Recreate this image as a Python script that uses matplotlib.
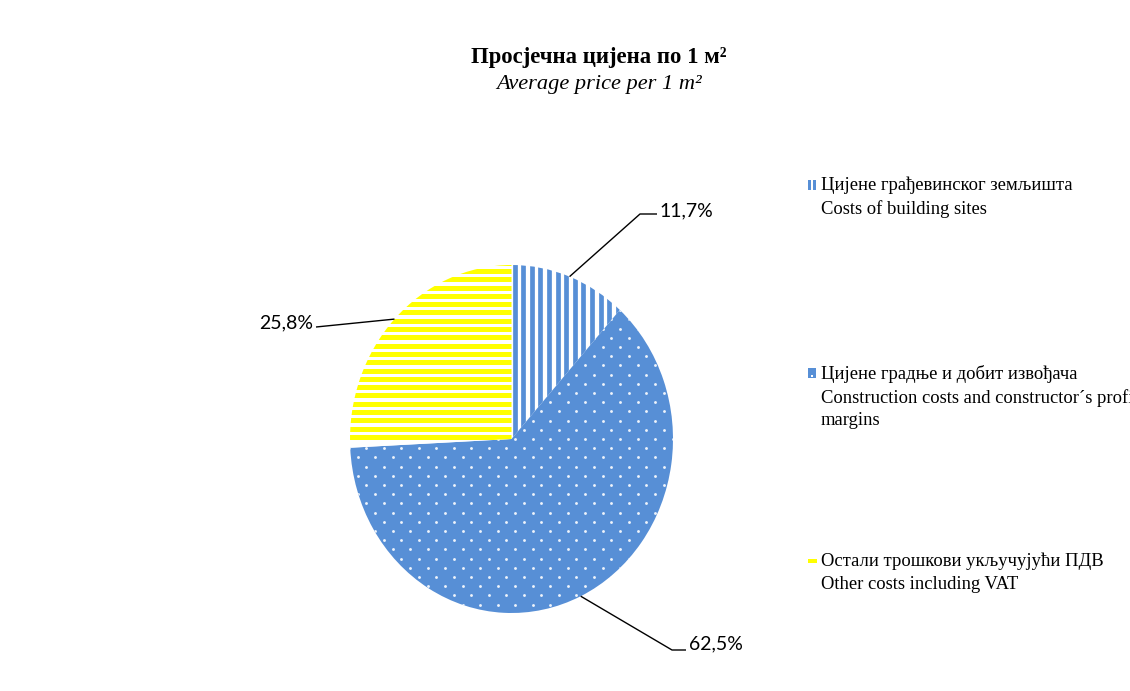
import numpy as np
import matplotlib
matplotlib.use("Agg")
import matplotlib.pyplot as plt
from matplotlib.patches import Rectangle
from matplotlib.collections import LineCollection
from matplotlib.transforms import IdentityTransform

# ---- data ----
categories_sr = ["Цијене грађевинског земљишта",
                 "Цијене градње и добит извођача",
                 "Остали трошкови укључујући ПДВ"]
categories_en = ["Costs of building sites",
                 "Construction costs and constructor\u00b4s profit\nmargins",
                 "Other costs including VAT"]
shares = [11.7, 62.5, 25.8]
value_labels = ["11,7%", "62,5%", "25,8%"]

title_sr = "Просјечна цијена по 1 м²"
title_en = "Average price per 1 m²"

BLUE = "#578FD6"
YELLOW = "#FFFF00"
DOT = "#EEF3FB"

W, H = 1130, 691
fig = plt.figure(figsize=(W / 100, H / 100), dpi=100)
fig.patch.set_facecolor("white")

# pie axes: ellipse spanning px x 350..673, y 265..613
cx, cy, rx, ry = 511.5, 439.0, 161.5, 174.0
ax = fig.add_axes([(cx - rx) / W, (H - (cy + ry)) / H, 2 * rx / W, 2 * ry / H])

wedges, _ = ax.pie(shares, startangle=90, counterclock=False, radius=1,
                   center=(0, 0), frame=True,
                   wedgeprops=dict(linewidth=0))
ax.set_aspect('auto')
ax.set_xlim(-1, 1)
ax.set_ylim(-1, 1)
ax.axis('off')

faces = ["white", BLUE, "white"]
for w, fc in zip(wedges, faces):
    w.set_facecolor(fc)
    w.set_edgecolor("none")
    w.set_linewidth(0)

ident = IdentityTransform()
x0p, x1p = cx - rx - 10, cx + rx + 10
y0p, y1p = H - (cy + ry) - 10, H - (cy - ry) + 10

# pattern 1: vertical blue stripes
xs = np.arange(cx + 3.0, x1p, 8.6)
segs = [[(x, y0p), (x, y1p)] for x in xs]
lc = LineCollection(segs, colors=BLUE, linewidths=3.4, transform=ident,
                    antialiased=True)
ax.add_collection(lc)
lc.set_clip_path(wedges[0])

# pattern 3: horizontal yellow stripes
ys = np.arange(H - cy + 2.0, y1p, 8.3)
segs = [[(x0p, y), (x1p, y)] for y in ys]
lc3 = LineCollection(segs, colors=YELLOW, linewidths=3.6, transform=ident,
                     antialiased=True)
ax.add_collection(lc3)
lc3.set_clip_path(wedges[2])

# pattern 2: staggered white dots on blue
dx, dy = 17.5, 9.2
pts = []
for j, yy in enumerate(np.arange(y0p, y1p, dy)):
    off = 0 if j % 2 == 0 else dx / 2
    for xx in np.arange(x0p + off, x1p, dx):
        pts.append((xx, yy))
pts = np.array(pts)
sc = ax.scatter(pts[:, 0], pts[:, 1], s=4.2, c=DOT, linewidths=0,
                transform=ident, zorder=3)
sc.set_clip_path(wedges[1])


def px2d(px, py):
    return ((px - cx) / rx, (cy - py) / ry)


# leader lines / labels (elbow, end, text position, alignment) in pixel coords
leaders = [
    ((640, 214), (657, 214), (659, 211), "left"),
    ((672, 650), (686, 650), (689, 644), "left"),
    ((316, 327), (316, 327), (313, 323), "right"),
]
for w, lab, (elb, end, tp, ha) in zip(wedges, value_labels, leaders):
    mid = np.deg2rad((w.theta1 + w.theta2) / 2)
    p0 = (np.cos(mid), np.sin(mid))
    e = px2d(*elb)
    f = px2d(*end)
    ax.plot([p0[0], e[0], f[0]], [p0[1], e[1], f[1]], color="black", lw=1.0,
            clip_on=False, solid_capstyle="butt", zorder=5)
    t = px2d(*tp)
    ax.text(t[0], t[1], lab, ha=ha, va="center", fontsize=14,
            family=["Lato", "DejaVu Sans"], clip_on=False)

# titles
fig.text(599 / W, 1 - 57 / H, title_sr, ha="center", va="center",
         fontsize=16.4, fontweight="bold", family=["Liberation Serif", "DejaVu Serif"])
fig.text(599 / W, 1 - 84 / H, title_en, ha="center", va="center",
         fontsize=16.1, style="italic", family=["Liberation Serif", "DejaVu Serif"])

# legend (manual)
leg_y = [185, 373, 561]
for i, (sr, en, y) in enumerate(zip(categories_sr, categories_en, leg_y)):
    fig.text(821 / W, 1 - (y - 8) / H, sr + "\n" + en, ha="left", va="top",
             fontsize=13.4, linespacing=1.42,
             family=["Liberation Serif", "DejaVu Serif"])
# legend markers
# 1: vertical stripes
for x0 in [808, 812.5]:
    fig.patches.append(Rectangle((x0 / W, 1 - 190 / H), 3 / W, 10 / H,
                                 transform=fig.transFigure, facecolor=BLUE,
                                 edgecolor="none"))
# 2: dotted blue square
fig.patches.append(Rectangle((808 / W, 1 - 378 / H), 8 / W, 10 / H,
                             transform=fig.transFigure, facecolor=BLUE,
                             edgecolor="none"))
fig.patches.append(Rectangle((811 / W, 1 - 377 / H), 2 / W, 2 / H,
                             transform=fig.transFigure, facecolor="white",
                             edgecolor="none"))
# 3: yellow bar
fig.patches.append(Rectangle((808 / W, 1 - 563 / H), 9 / W, 4 / H,
                             transform=fig.transFigure, facecolor=YELLOW,
                             edgecolor="none"))

fig.savefig("out.png", dpi=100, facecolor="white")
